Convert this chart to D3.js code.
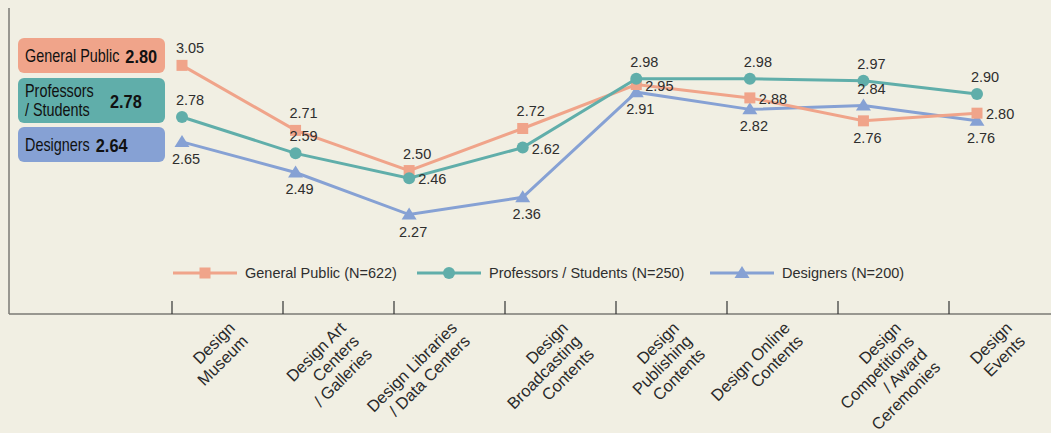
<!DOCTYPE html>
<html>
<head>
<meta charset="utf-8">
<script src="https://cdn.jsdelivr.net/npm/d3@7"></script>
<style>
  html, body { margin: 0; padding: 0; background: #f1efe3; }
  svg { display: block; }
  text { font-family: "Liberation Sans", Arial, sans-serif; }
</style>
</head>
<body>
<svg id="chart" width="1051" height="433"></svg>
<script>
// Facility categories (line breaks marked with "|")
const categories = [
  "Design|Museum",
  "Design Art|Centers|/ Galleries",
  "Design Libraries|/ Data Centers",
  "Design|Broadcasting|Contents",
  "Design|Publishing|Contents",
  "Design Online|Contents",
  "Design|Competitions|/ Award|Ceremonies",
  "Design|Events"
];

// Mean scores per respondent group
const generalPublic = [3.05, 2.71, 2.50, 2.72, 2.95, 2.88, 2.76, 2.80];
const professors    = [2.78, 2.59, 2.46, 2.62, 2.98, 2.98, 2.97, 2.90];
const designers     = [2.65, 2.49, 2.27, 2.36, 2.91, 2.82, 2.84, 2.76];

// Overall averages shown in the side badges
const groupNames   = ["General Public", "Professors|/ Students", "Designers"];
const groupAverage = [2.80, 2.78, 2.64];
const legendNames  = ["General Public (N=622)", "Professors / Students (N=250)", "Designers (N=200)"];

// Where each value label sits relative to its marker: a = above, b = below, r = right
const labelSideGP = ["a", "a", "a", "a", "r", "r", "b", "r"];
const labelSidePS = ["a", "a", "r", "r", "a", "a", "a", "a"];
const labelSideDS = ["b", "b", "b", "b", "b", "b", "a", "b"];

const colors = { gp: "#f0a48a", ps: "#60aeaa", ds: "#86a1d4" };

const svg = d3.select("#chart");
const W = 1051;

const axisLeft = 9, axisBottom = 314, axisTop = 8;

// Category bands (ticks on band boundaries, labels beneath)
const xBand = d3.scaleBand().domain(categories).range([172, 172 + 111 * categories.length]).padding(0);
// Marker positions along the categories
const xPt = d3.scalePoint().domain(categories).range([182, 977]);
const y = d3.scaleLinear().domain([1.75, 3.35]).range([axisBottom, axisTop]);

// Axes frame
svg.append("line")
  .attr("x1", axisLeft).attr("x2", axisLeft)
  .attr("y1", axisTop).attr("y2", axisBottom)
  .attr("stroke", "#7a7a74").attr("stroke-width", 1.5);
svg.append("line")
  .attr("x1", axisLeft).attr("x2", W)
  .attr("y1", axisBottom).attr("y2", axisBottom)
  .attr("stroke", "#7a7a74").attr("stroke-width", 1.5);

// Band-boundary ticks
svg.append("g").selectAll("line").data(categories).join("line")
  .attr("x1", d => xBand(d)).attr("x2", d => xBand(d))
  .attr("y1", axisBottom - 13).attr("y2", axisBottom)
  .attr("stroke", "#333").attr("stroke-width", 1.2);

// Rotated, multi-line category labels
const catG = svg.append("g").selectAll("g").data(categories).join("g")
  .attr("transform", d => `translate(${xBand(d) + 64},${329}) rotate(-45)`);
catG.each(function(d) {
  const lines = d.split("|");
  d3.select(this).selectAll("text").data(lines).join("text")
    .attr("x", 0).attr("y", (l, i) => i * 18.5)
    .attr("text-anchor", "end")
    .attr("font-size", 16.5)
    .attr("fill", "#2a2a2a")
    .text(l => l);
});

// Series
const series = [
  { key: "ds", values: designers, sides: labelSideDS, shape: "triangle" },
  { key: "gp", values: generalPublic, sides: labelSideGP, shape: "square" },
  { key: "ps", values: professors, sides: labelSidePS, shape: "circle" }
];

const line = d3.line().x((v, i) => xPt(categories[i])).y(v => y(v));

function drawMarker(g, shape, color, cx, cy) {
  if (shape === "square") {
    g.append("rect").attr("x", cx - 5.5).attr("y", cy - 5.5)
      .attr("width", 11).attr("height", 11).attr("fill", color);
  } else if (shape === "circle") {
    g.append("circle").attr("cx", cx).attr("cy", cy).attr("r", 6).attr("fill", color);
  } else {
    g.append("path")
      .attr("d", `M${cx},${cy - 7}L${cx + 7.5},${cy + 5}L${cx - 7.5},${cy + 5}Z`)
      .attr("fill", color);
  }
}

series.forEach(s => {
  const g = svg.append("g");
  g.append("path").datum(s.values)
    .attr("d", line)
    .attr("fill", "none")
    .attr("stroke", colors[s.key])
    .attr("stroke-width", 3);
  s.values.forEach((v, i) => drawMarker(g, s.shape, colors[s.key], xPt(categories[i]), y(v)));
});

// Value labels
series.forEach(s => {
  s.values.forEach((v, i) => {
    const cx = xPt(categories[i]), cy = y(v);
    const side = s.sides[i];
    let tx = cx, ty = cy, anchor = "middle";
    if (side === "a") { tx = cx + 8; ty = cy - 12; }
    else if (side === "b") { tx = cx + 4; ty = cy + 22; }
    else if (side === "r") { tx = cx + 9; ty = cy + 6; anchor = "start"; }
    svg.append("text")
      .attr("x", tx).attr("y", ty)
      .attr("text-anchor", anchor)
      .attr("font-size", 14.5)
      .attr("fill", "#2e2e2e")
      .text(v.toFixed(2));
  });
});

// Bottom legend
const legendItems = [
  { name: legendNames[0], key: "gp", shape: "square", x: 173 },
  { name: legendNames[1], key: "ps", shape: "circle", x: 417 },
  { name: legendNames[2], key: "ds", shape: "triangle", x: 710 }
];
const legY = 273;
legendItems.forEach(it => {
  const g = svg.append("g");
  g.append("line").attr("x1", it.x).attr("x2", it.x + 64)
    .attr("y1", legY).attr("y2", legY)
    .attr("stroke", colors[it.key]).attr("stroke-width", 3);
  drawMarker(g, it.shape, colors[it.key], it.x + 32, legY);
  g.append("text").attr("x", it.x + 72).attr("y", legY + 5)
    .attr("font-size", 14.5).attr("fill", "#2e2e2e")
    .text(it.name);
});

// Side badges with overall averages (text drawn horizontally condensed)
const badges = [
  { key: "gp", y0: 38, h: 35 },
  { key: "ps", y0: 78, h: 45 },
  { key: "ds", y0: 127, h: 35 }
];
const squeeze = 0.8;
badges.forEach((b, i) => {
  const g = svg.append("g");
  g.append("rect").attr("x", 18).attr("y", b.y0).attr("width", 147).attr("height", b.h)
    .attr("rx", 6).attr("fill", colors[b.key]);
  const lines = groupNames[i].split("|");
  const lh = 19;
  const startY = b.y0 + b.h / 2 - (lines.length - 1) * lh / 2 + 6;
  const nameT = g.append("text")
    .attr("transform", `translate(25,${startY}) scale(${squeeze},1)`)
    .attr("font-size", 18).attr("fill", "#111");
  lines.forEach((l, k) => {
    nameT.append("tspan").attr("x", 0).attr("y", k * lh).text(l);
  });
  const nameW = d3.max(nameT.selectAll("tspan").nodes(), n => n.getComputedTextLength()) * squeeze;
  const valX = lines.length > 1 ? 110 : 25 + nameW + 6;
  g.append("text")
    .attr("transform", `translate(${valX},${b.y0 + b.h / 2 + 7}) scale(0.86,1)`)
    .attr("font-size", 19).attr("font-weight", "bold").attr("fill", "#111")
    .text(groupAverage[i].toFixed(2));
});
</script>
</body>
</html>
